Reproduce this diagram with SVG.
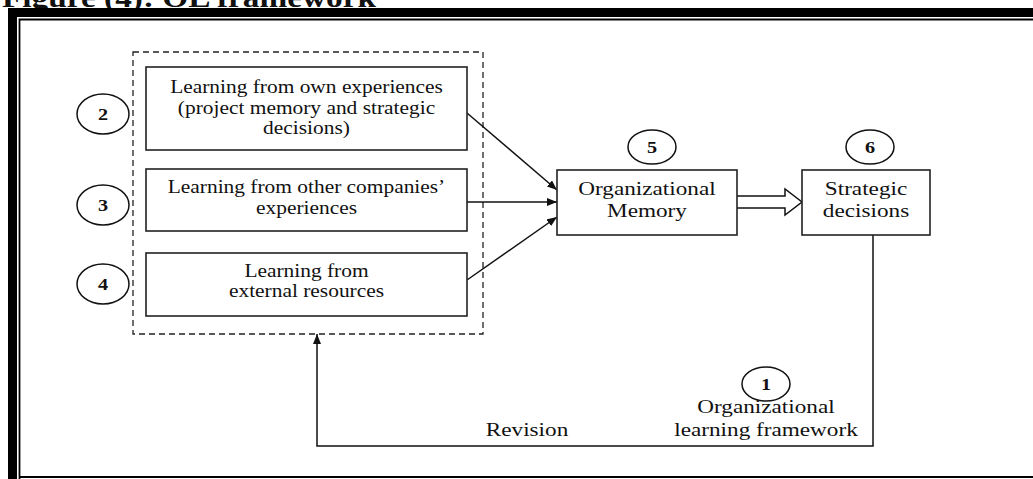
<svg xmlns="http://www.w3.org/2000/svg" width="1033" height="479" viewBox="0 0 1033 479">
<style>
.t{font-family:"Liberation Serif","Times New Roman",serif;font-size:18px;fill:#111;text-anchor:middle}
.tb{font-family:"Liberation Serif","Times New Roman",serif;font-size:19.5px;fill:#111;text-anchor:middle}
.n{font-family:"Liberation Serif","Times New Roman",serif;font-size:17px;font-weight:bold;fill:#111;text-anchor:middle}
.box{fill:#fff;stroke:#222;stroke-width:1.6}
.circ{fill:#fff;stroke:#111;stroke-width:1.5}
.ln{fill:none;stroke:#111;stroke-width:1.5}
</style>
<defs>
<marker id="ah" viewBox="0 0 10 8" refX="10" refY="4" markerWidth="10" markerHeight="8" markerUnits="userSpaceOnUse" orient="auto">
<path d="M0,0 L10,4 L0,8 Z" fill="#111"/>
</marker>
</defs>
<rect width="1033" height="479" fill="#fff"/>
<g id="title">
<text transform="translate(2,6.5) scale(1.19,1)" style="font-family:'Liberation Serif','Times New Roman',serif;font-size:28px;font-weight:bold;fill:#111">Figure (4): OL framework</text>
</g>
<g id="frame">
<rect x="8" y="8" width="9" height="471" fill="#000"/>
<rect x="8" y="8" width="1025" height="9" fill="#000"/>
<path d="M19.5,479 V19.5 H1033 M19.5,477 H1033" fill="none" stroke="#000" stroke-width="1.8"/>
</g>
<g id="group-dashed">
<rect x="133" y="52" width="350" height="282" fill="none" stroke="#222" stroke-width="1.3" stroke-dasharray="6,4"/>
</g>
<g id="connectors">
<line class="ln" x1="467" y1="113" x2="557" y2="190" marker-end="url(#ah)"/>
<line class="ln" x1="467" y1="202" x2="557" y2="202" marker-end="url(#ah)"/>
<line class="ln" x1="467" y1="280" x2="557" y2="217" marker-end="url(#ah)"/>
<path d="M737,196 H785 V189 L802,202 L785,215 V208 H737" fill="#fff" stroke="#111" stroke-width="1.5"/>
<path class="ln" d="M873,235 V446 H317 V334" marker-end="url(#ah)"/>
</g>
<g id="node-own">
<rect class="box" x="146" y="67" width="321" height="83"/>
<text class="t" transform="translate(306.5,93) scale(1.19,1)">Learning from own experiences</text>
<text class="t" transform="translate(306.5,113.5) scale(1.19,1)">(project memory and strategic</text>
<text class="t" transform="translate(306.5,134) scale(1.19,1)">decisions)</text>
</g>
<g id="node-other">
<rect class="box" x="146" y="169" width="321" height="62"/>
<text class="t" transform="translate(306.5,193) scale(1.19,1)">Learning from other companies’</text>
<text class="t" transform="translate(306.5,214) scale(1.19,1)">experiences</text>
</g>
<g id="node-external">
<rect class="box" x="146" y="253" width="321" height="63"/>
<text class="t" transform="translate(306.5,277) scale(1.19,1)">Learning from</text>
<text class="t" transform="translate(306.5,297) scale(1.19,1)">external resources</text>
</g>
<g id="node-memory">
<rect class="box" x="557" y="170" width="180" height="65"/>
<text class="tb" transform="translate(647,195) scale(1.19,1)">Organizational</text>
<text class="tb" transform="translate(647,217) scale(1.19,1)">Memory</text>
</g>
<g id="node-strategic">
<rect class="box" x="802" y="170" width="128" height="65"/>
<text class="tb" transform="translate(866,195) scale(1.19,1)">Strategic</text>
<text class="tb" transform="translate(866,217) scale(1.19,1)">decisions</text>
</g>
<g id="circle-2">
<ellipse class="circ" cx="103" cy="114" rx="26" ry="20"/>
<text class="n" transform="translate(103,120) scale(1.19,1)">2</text>
</g>
<g id="circle-3">
<ellipse class="circ" cx="103" cy="205" rx="26" ry="20"/>
<text class="n" transform="translate(103,211) scale(1.19,1)">3</text>
</g>
<g id="circle-4">
<ellipse class="circ" cx="103" cy="284" rx="26" ry="20"/>
<text class="n" transform="translate(103,290) scale(1.19,1)">4</text>
</g>
<g id="circle-5">
<ellipse class="circ" cx="652" cy="147" rx="24" ry="17"/>
<text class="n" transform="translate(652,153) scale(1.19,1)">5</text>
</g>
<g id="circle-6">
<ellipse class="circ" cx="870" cy="147" rx="24" ry="17"/>
<text class="n" transform="translate(870,153) scale(1.19,1)">6</text>
</g>
<g id="circle-1">
<ellipse class="circ" cx="766" cy="384" rx="24" ry="17"/>
<text class="n" transform="translate(766,390) scale(1.19,1)">1</text>
</g>
<g id="labels">
<text class="tb" transform="translate(766,413) scale(1.19,1)">Organizational</text>
<text class="tb" transform="translate(766,436) scale(1.19,1)">learning framework</text>
<text class="tb" transform="translate(527,436) scale(1.19,1)">Revision</text>
</g>
</svg>
